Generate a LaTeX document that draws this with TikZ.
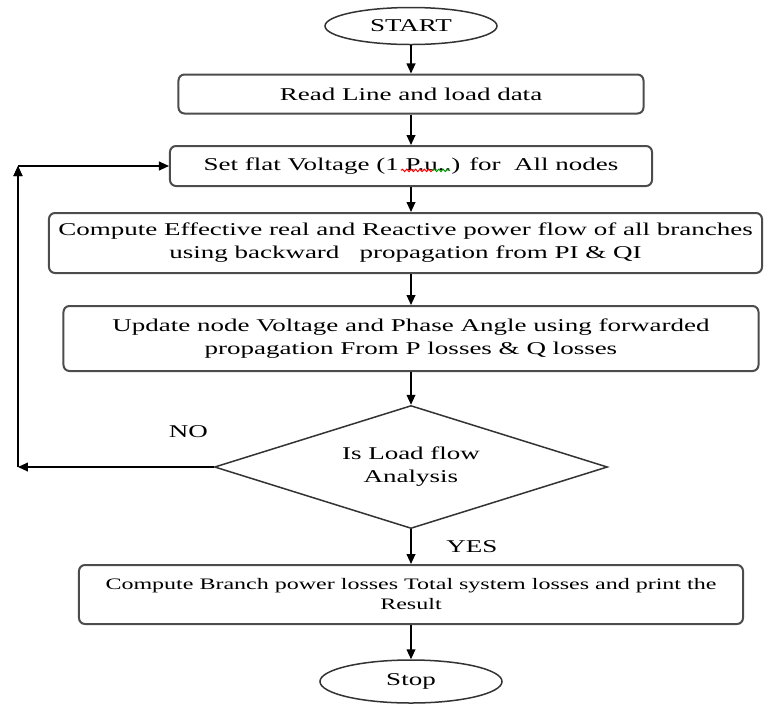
\documentclass[tikz,border=0pt]{standalone}
\usepackage{fontspec}
\setmainfont{Liberation Serif}[FakeStretch=1.5]
\usepackage{tikz}
\usetikzlibrary{%
	matrix,%
	calc,%
	arrows.meta,%
	shapes.geometric,%
	decorations.pathmorphing
}
\tikzset{
	proc/.style={draw=black!70,line width=1pt,rounded corners=3pt,align=center,inner sep=0pt},
	term/.style={draw=black!80,line width=.75pt,ellipse,inner sep=0pt},
	test/.style={draw=black!80,line width=.75pt,diamond,aspect=3.2,inner sep=0pt,align=center},
	flow/.style={-{Triangle[length=5pt,width=4.4pt]},line width=.75pt},
	squiggle/.style={line width=.5pt,decorate,decoration={snake,segment length=2.2pt,amplitude=.6pt}}
}

\begin{document}
\begin{tikzpicture}[font=\fontsize{9}{11.5}\selectfont]
			\matrix[inner sep=0pt,column sep=0pt,row sep={0pt,between origins},nodes={anchor=center}] (s)
			{
				\node[term,minimum width=86pt,minimum height=18.5pt] (start) {START}; \\[34pt]
				%
				\node[proc,minimum width=232.5pt,minimum height=19.5pt] (read) {Read Line and load data}; \\[36pt]
				%
				\node[proc,minimum width=241pt,minimum height=20pt] (flat) {Set flat Voltage (1 P.u..) for\ \ All nodes}; \\[38.5pt]
				%
				\node[proc,minimum width=356.5pt,minimum height=30pt,xshift=-2.75pt] (eff) {Compute Effective real and Reactive power flow of all branches\\ using backward\ \ \ propagation from PI \& QI}; \\[47.75pt]
				%
				\node[proc,minimum width=347.5pt,minimum height=32.5pt] (upd) {Update node Voltage and Phase Angle using forwarded\\ propagation From P losses \& Q losses}; \\[64.25pt]
				%
				\node[test,minimum width=196.5pt,minimum height=61.5pt] (dec) {Is Load flow\\ Analysis}; \\[63.75pt]
				%
				\node[proc,minimum width=332pt,minimum height=29.5pt,font=\fontsize{8}{10}\selectfont] (res) {Compute Branch power losses Total system losses and print the\\ Result}; \\[43.5pt]
				%
				\node[term,minimum width=91pt,minimum height=21.5pt] (stop) {Stop}; \\
			};
			\coordinate (o) at ($(start.center)+(-205.5pt,13pt)$);
			\pgfresetboundingbox
			\useasboundingbox (o) rectangle ++(382pt,-356.5pt);
			\coordinate (x0) at ($(o)+(9pt,0)$);
			\coordinate (lb) at (dec.west -| x0);
			\coordinate (lt) at (flat.west -| x0);
			\draw [flow] (start) edge (read)
			(read) edge (flat)
			(flat.south) edge (flat.south |- eff.north)
			(upd.north |- eff.south) edge (upd.north)
			(upd) edge (dec)
			(dec) edge node[right,xshift=14pt] {YES} (res)
			(res) edge (stop)
			(dec.west) edge node[pos=.13,above=11pt] {NO} (lb)
			(lb) edge (lt)
			(lt) edge (flat.west)
			;
			% spell-check marks under P.u..
			\draw[squiggle,red] ($(flat.center)+(-5pt,-2.2pt)$) -- ++(16pt,0);
			\draw[squiggle,green!60!black] ($(flat.center)+(11pt,-2.2pt)$) -- ++(8.5pt,0);
		\end{tikzpicture}
\end{document}
